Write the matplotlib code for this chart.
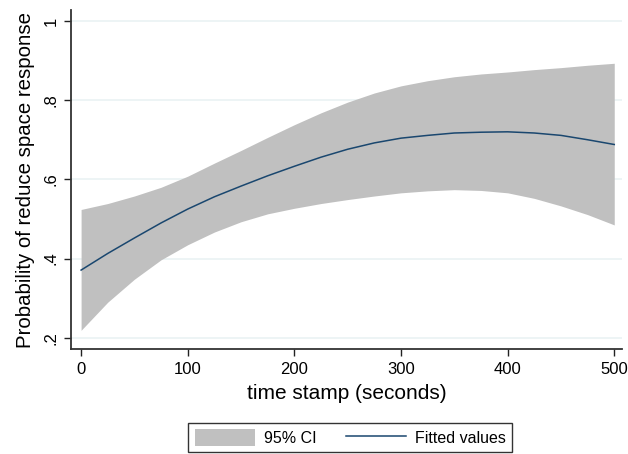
import matplotlib.pyplot as plt
import numpy as np

plt.rcParams['font.family'] = ['Liberation Sans', 'DejaVu Sans']

# values
time_s = [0, 25, 50, 75, 100, 125, 150, 175, 200, 225, 250, 275, 300, 325,
          350, 375, 400, 425, 450, 475, 500]
fitted = [0.371, 0.413, 0.452, 0.490, 0.525, 0.556, 0.583, 0.609, 0.633,
          0.656, 0.676, 0.692, 0.704, 0.711, 0.717, 0.719, 0.720, 0.717,
          0.711, 0.700, 0.688]
ci_upper = [0.524, 0.539, 0.558, 0.580, 0.608, 0.641, 0.673, 0.706, 0.738,
            0.768, 0.795, 0.818, 0.836, 0.849, 0.859, 0.866, 0.871, 0.877,
            0.882, 0.888, 0.893]
ci_lower = [0.219, 0.290, 0.348, 0.397, 0.435, 0.467, 0.493, 0.513, 0.527,
            0.539, 0.549, 0.558, 0.566, 0.571, 0.574, 0.572, 0.566, 0.552,
            0.533, 0.511, 0.485]

y_ticks = [0.2, 0.4, 0.6, 0.8, 1.0]
y_ticklabels = ['.2', '.4', '.6', '.8', '1']
x_ticks = [0, 100, 200, 300, 400, 500]

fig = plt.figure(figsize=(6.28, 4.54), dpi=100)
ax = fig.add_axes([0.113, 0.231, 0.877, 0.747])

ax.fill_between(time_s, ci_lower, ci_upper, color='#c0c0c0', linewidth=0,
                label='95% CI', zorder=2)
ax.plot(time_s, fitted, color='#1a476f', linewidth=1.1, label='Fitted values', zorder=3)

ax.set_xlim(-9.5, 507)
ax.set_ylim(0.1715, 1.0275)
ax.set_xticks(x_ticks)
ax.set_yticks(y_ticks)
ax.set_yticklabels(y_ticklabels, rotation=90, va='center')
ax.tick_params(labelsize=12, length=5, width=1, color='#222222', pad=4)

ax.grid(axis='y', color='#eaf2f3', linewidth=1.2, zorder=0)
ax.set_axisbelow(True)
for s in ['top', 'right']:
    ax.spines[s].set_visible(False)
for s in ['left', 'bottom']:
    ax.spines[s].set_color('#333333')
    ax.spines[s].set_linewidth(1.3)

ax.set_xlabel('time stamp (seconds)', fontsize=15, labelpad=5)
ax.set_ylabel('Probability of reduce space response', fontsize=14.7, labelpad=6)

leg = fig.legend(loc='lower center', bbox_to_anchor=(0.558, 0.0), ncol=2,
                 fontsize=11.5, frameon=True, fancybox=False, edgecolor='black',
                 handlelength=3.75, handleheight=1.2, columnspacing=1.9,
                 borderpad=0.4, handletextpad=0.55, borderaxespad=0.1)
leg.get_frame().set_linewidth(1.0)

fig.savefig('out.png', dpi=100)
